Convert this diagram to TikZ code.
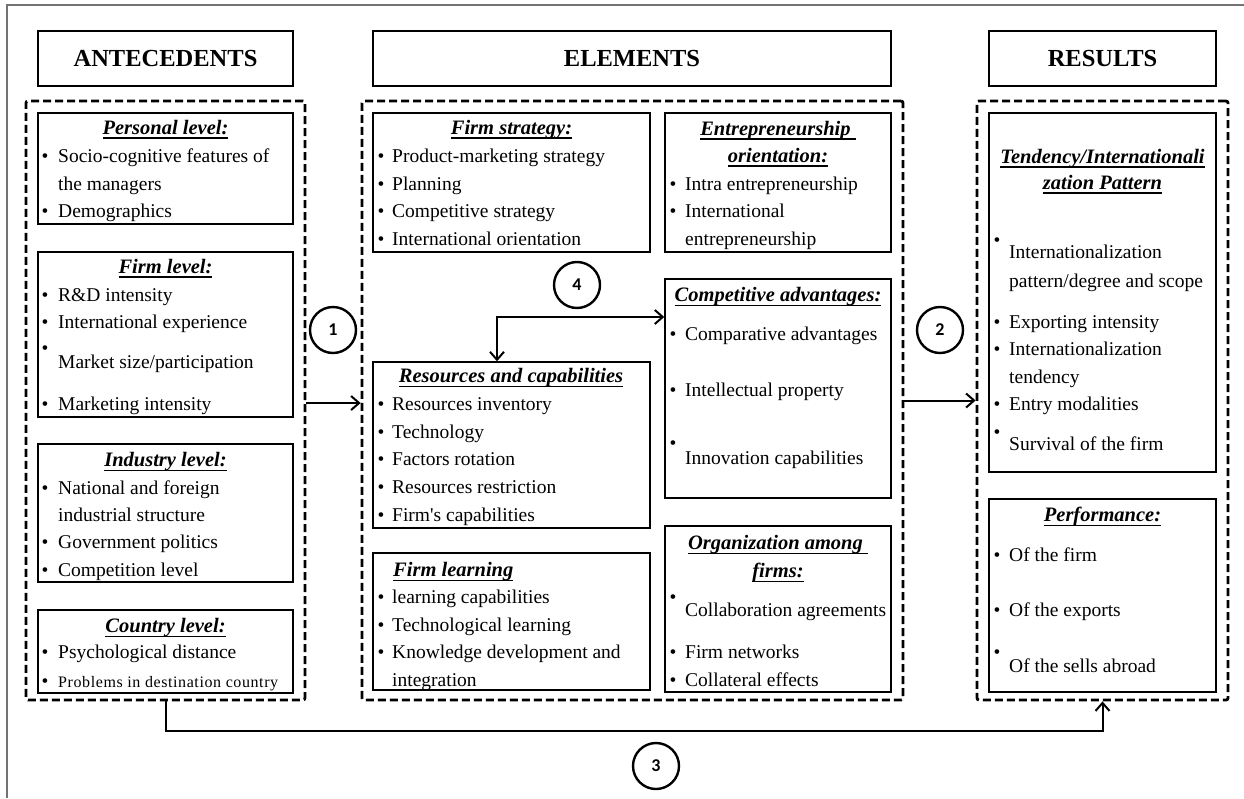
\documentclass[tikz,border=0pt]{standalone}
\usepackage{fontspec}
\setmainfont{Liberation Serif}
\newfontfamily\numfont{Carlito}
\usetikzlibrary{arrows.meta,calc}

% underlined heading: thick rule below the baseline, as wide as the text
\newsavebox\ulbox
\newcommand\ttlu[1]{\sbox\ulbox{#1}\rlap{\vrule height -3.2pt depth 4.7pt width \wd\ulbox}\usebox\ulbox}

\newcounter{tn}
\newcommand\bu[2]{\stepcounter{tn}\node[dot] (b\arabic{tn}) at (#1,#2) {\textbullet};}
\newcommand\tx[3]{\stepcounter{tn}\node[txt] (t\arabic{tn}) at (#1,#2) {#3};}
\newcommand\li[4]{\bu{#1}{#3}\tx{#2}{#3}{#4}}
\newcommand\ttlat[3]{\stepcounter{tn}\node[ttl] (h\arabic{tn}) at (#1,#2) {\ttlu{#3}};}

\tikzset{
  box/.style={draw, line width=1.4pt, inner sep=0pt},
  grp/.style={draw, line width=2.8pt, dash pattern=on 8pt off 4pt, rounded corners=2pt, inner sep=0pt},
  hdr/.style={draw, line width=1.4pt, inner sep=0pt, font=\fontsize{24.5}{28}\selectfont\bfseries},
  txt/.style={anchor=mid west, inner sep=0pt, yshift=-4pt, font=\fontsize{19.5}{22}\selectfont},
  dot/.style={anchor=mid, inner sep=0pt, yshift=-4pt, font=\fontsize{19.5}{22}\selectfont},
  ttl/.style={anchor=mid, inner sep=0pt, yshift=-4pt, font=\fontsize{20.5}{24}\selectfont\bfseries\itshape},
  num/.style={draw, circle, line width=2.4pt, minimum size=46pt, inner sep=0pt, font=\numfont\bfseries\fontsize{18}{20}\selectfont},
  arr/.style={line width=2pt, -{Straight Barb[length=8pt,width=14pt]}},
  arrboth/.style={line width=2pt, {Straight Barb[length=8pt,width=14pt]}-{Straight Barb[length=8pt,width=14pt]}},
}

\begin{document}
\begin{tikzpicture}[x=1pt, y=-1pt]
\useasboundingbox (0,0) rectangle (1244,798);
\fill[white] (0,0) rectangle (1244,798);

% page frame
\draw[black!55, line width=1.5pt] (7,798) -- (7,5) -- (1244,5);

% column headers
\node[hdr, minimum width=255pt, minimum height=55pt] (hA) at (165.5,58.5) {ANTECEDENTS};
\node[hdr, minimum width=518pt, minimum height=55pt] (hE) at (632,58.5) {ELEMENTS};
\node[hdr, minimum width=227pt, minimum height=55pt] (hR) at (1102.5,58.5) {RESULTS};

% dashed groups
\node[grp, minimum width=279pt, minimum height=599pt] (gA) at (165.5,400.5) {};
\node[grp, minimum width=541pt, minimum height=599pt] (gE) at (632.5,400.5) {};
\node[grp, minimum width=251pt, minimum height=599pt] (gR) at (1102.5,400.5) {};

% antecedents
\node[box, minimum width=255pt, minimum height=111pt] (pers) at (165.5,168.5) {};
\node[box, minimum width=255pt, minimum height=165pt] (firm) at (165.5,334.5) {};
\node[box, minimum width=255pt, minimum height=138pt] (ind) at (165.5,513) {};
\node[box, minimum width=255pt, minimum height=83pt] (ctry) at (165.5,651.5) {};

\ttlat{165.5}{128}{Personal level:}
\li{45}{58}{156}{Socio-cognitive features of}
\tx{58}{184}{the managers}
\li{45}{58}{211}{Demographics}

\ttlat{165.5}{267}{Firm level:}
\li{45}{58}{295}{R\&D intensity}
\li{45}{58}{322}{International experience}
\bu{45}{348}
\tx{58}{362}{Market size/participation}
\li{45}{58}{404}{Marketing intensity}

\ttlat{165.5}{460}{Industry level:}
\li{45}{58}{488}{National and foreign}
\tx{58}{515}{industrial structure}
\li{45}{58}{542}{Government politics}
\li{45}{58}{570}{Competition level}

\ttlat{165.5}{626}{Country level:}
\li{45}{58}{652}{Psychological distance}
\bu{45}{681}
\tx{58}{681}{\fontsize{16}{19}\selectfont\addfontfeature{LetterSpace=3.7}Problems in destination country}

% elements
\node[box, minimum width=277pt, minimum height=139pt] (strat) at (511.5,182.5) {};
\node[box, minimum width=226pt, minimum height=139pt] (entr) at (778,182.5) {};
\node[box, minimum width=226pt, minimum height=219pt] (cadv) at (778,388.5) {};
\node[box, minimum width=277pt, minimum height=166pt] (res) at (511.5,445) {};
\node[box, minimum width=277pt, minimum height=137pt] (learn) at (511.5,621.5) {};
\node[box, minimum width=226pt, minimum height=166pt] (org) at (778,609) {};

\ttlat{511.5}{128}{Firm strategy:}
\li{381}{392}{156}{Product-marketing strategy}
\li{381}{392}{184}{Planning}
\li{381}{392}{211}{Competitive strategy}
\li{381}{392}{239}{International orientation}

\ttlat{778}{129}{Entrepreneurship\ }
\ttlat{778}{156}{orientation:}
\li{673}{685}{184}{Intra entrepreneurship}
\li{673}{685}{211}{International}
\tx{685}{239}{entrepreneurship}

\ttlat{778}{295}{Competitive advantages:}
\li{673}{685}{334}{Comparative advantages}
\li{673}{685}{390}{Intellectual property}
\bu{673}{443}
\tx{685}{458}{Innovation capabilities}

\ttlat{511}{376}{Resources and capabilities}
\li{381}{392}{404}{Resources inventory}
\li{381}{392}{432}{Technology}
\li{381}{392}{459}{Factors rotation}
\li{381}{392}{487}{Resources restriction}
\li{381}{392}{515}{Firm\textquotesingle s capabilities}

\stepcounter{tn}\node[ttl, anchor=mid west] (h\arabic{tn}) at (393,570) {\ttlu{Firm learning}};
\li{381}{392}{597}{learning capabilities}
\li{381}{392}{625}{Technological learning}
\li{381}{392}{652}{Knowledge development and}
\tx{392}{680}{integration}

\ttlat{778}{543}{Organization among\ }
\ttlat{778}{571}{firms:}
\bu{673}{597}
\tx{685}{610}{Collaboration agreements}
\li{673}{685}{652}{Firm networks}
\li{673}{685}{680}{Collateral effects}

% results
\node[box, minimum width=227pt, minimum height=359pt] (tend) at (1102.5,292.5) {};
\node[box, minimum width=227pt, minimum height=193pt] (perf) at (1102.5,595.5) {};

\ttlat{1102.5}{157}{Tendency/Internationali}
\ttlat{1102.5}{183}{zation Pattern}
\bu{997}{240}
\tx{1009}{252}{Internationalization}
\tx{1009}{281}{pattern/degree and scope}
\li{997}{1009}{322}{Exporting intensity}
\li{997}{1009}{349}{Internationalization}
\tx{1009}{377}{tendency}
\li{997}{1009}{404}{Entry modalities}
\bu{997}{432}
\tx{1009}{444}{Survival of the firm}

\ttlat{1102.5}{515}{Performance:}
\li{997}{1009}{555}{Of the firm}
\li{997}{1009}{610}{Of the exports}
\bu{997}{652}
\tx{1009}{666}{Of the sells abroad}

% numbered markers
\node[num] (n1) at (333,330) {1};
\node[num] (n2) at (940,330) {2};
\node[num] (n3) at (656,766) {3};
\node[num] (n4) at (577,285) {4};

% connectors
\draw[arr] ([yshift=-2.5pt]gA.east) -- ([yshift=-2.5pt]gE.west);
\draw[arr] (gE.east) -- (gR.west);
\coordinate (low) at (0,731);
\draw[arr] (gA.south) |- (low -| gR.south) -- (gR.south);
\coordinate (c4) at (497,317);
\draw[arrboth] (res.north -| c4) -- (c4) -- (c4 -| cadv.west);
\end{tikzpicture}
\end{document}
